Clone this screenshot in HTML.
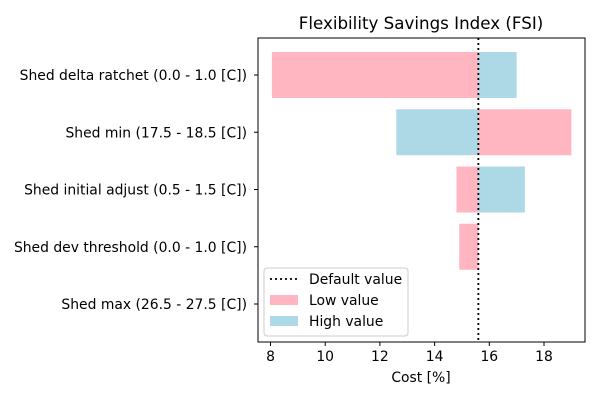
<!DOCTYPE html>
<html><head><meta charset="utf-8"><style>
body{margin:0;background:#fff;font-family:"Liberation Sans","DejaVu Sans",sans-serif;}
svg text{font-family:"DejaVu Sans","Liberation Sans",sans-serif;}
</style></head><body>
<svg id="chart" width="600" height="400" viewBox="0 0 600 400">
<text x="421" y="29" font-size="16.7" text-anchor="middle">Flexibility Savings Index (FSI)</text>
<g id="bars"></g>
<g id="axes"></g>
</svg>
<script>
const categories=["Shed delta ratchet (0.0 - 1.0 [C])","Shed min (17.5 - 18.5 [C])","Shed initial adjust (0.5 - 1.5 [C])","Shed dev threshold (0.0 - 1.0 [C])","Shed max (26.5 - 27.5 [C])"];
const lowValues=[8.05,19.0,14.8,14.9,15.6];
const highValues=[17.0,12.6,17.3,15.6,15.6];
const defaultValue=15.6;
const xTicks=[8,10,12,14,16,18];
const ns="http://www.w3.org/2000/svg";
const L=258,R=585,T=38,B=342;
const FS=13.9;
const x=v=>270.5+(v-8)*27.35;
const yc=i=>75+57.25*i;
const bh=46;
function mk(tag,attrs,parent){const e=document.createElementNS(ns,tag);for(const k in attrs)e.setAttribute(k,attrs[k]);parent.appendChild(e);return e;}
const bars=document.getElementById('bars'),axes=document.getElementById('axes');
categories.forEach((c,i)=>{
  [[lowValues[i],'#ffb6c1','low'],[highValues[i],'#add8e6','high']].forEach(([v,col,kind])=>{
    const a=Math.min(x(v),x(defaultValue)),w=Math.abs(x(v)-x(defaultValue));
    const r=mk('rect',{x:a,y:yc(i)-bh/2,width:w,height:bh,fill:col},bars);
    
    
  });
  mk('line',{x1:L-4,x2:L,y1:yc(i),y2:yc(i),stroke:'#000'},axes);
  const t=mk('text',{x:L-11,y:yc(i)+5,'font-size':FS,'text-anchor':'end'},axes);
  t.textContent=c;
  
  
});
const dl=mk('line',{x1:x(defaultValue),x2:x(defaultValue),y1:T,y2:B,stroke:'#000','stroke-width':1.8,'stroke-dasharray':'2,3'},axes);


mk('rect',{x:L,y:T,width:R-L,height:B-T,fill:'none',stroke:'#000','stroke-width':1},axes);
xTicks.forEach(v=>{
  mk('line',{x1:x(v),x2:x(v),y1:B,y2:B+4,stroke:'#000'},axes);
  const t=mk('text',{x:x(v),y:B+19,'font-size':FS,'text-anchor':'middle'},axes);
  t.textContent=v;
  
  
});
const xt=mk('text',{x:421,y:382,'font-size':FS,'text-anchor':'middle'},axes);
xt.textContent='Cost [%]';


const lg=mk('g',{},axes);


mk('rect',{x:264,y:268,width:144,height:68,rx:3,fill:'#fff','fill-opacity':0.8,stroke:'#ccc'},lg);
mk('line',{x1:270,x2:298,y1:279,y2:279,stroke:'#000','stroke-width':1.8,'stroke-dasharray':'2,3'},lg);
mk('rect',{x:270,y:295,width:28,height:10,fill:'#ffb6c1'},lg);
mk('rect',{x:270,y:316,width:28,height:10,fill:'#add8e6'},lg);
[['Default value',284],['Low value',305],['High value',326]].forEach(([s,y])=>{
  const t=mk('text',{x:309,y:y,'font-size':FS},lg);t.textContent=s;
  
  
});
</script>
</body></html>
